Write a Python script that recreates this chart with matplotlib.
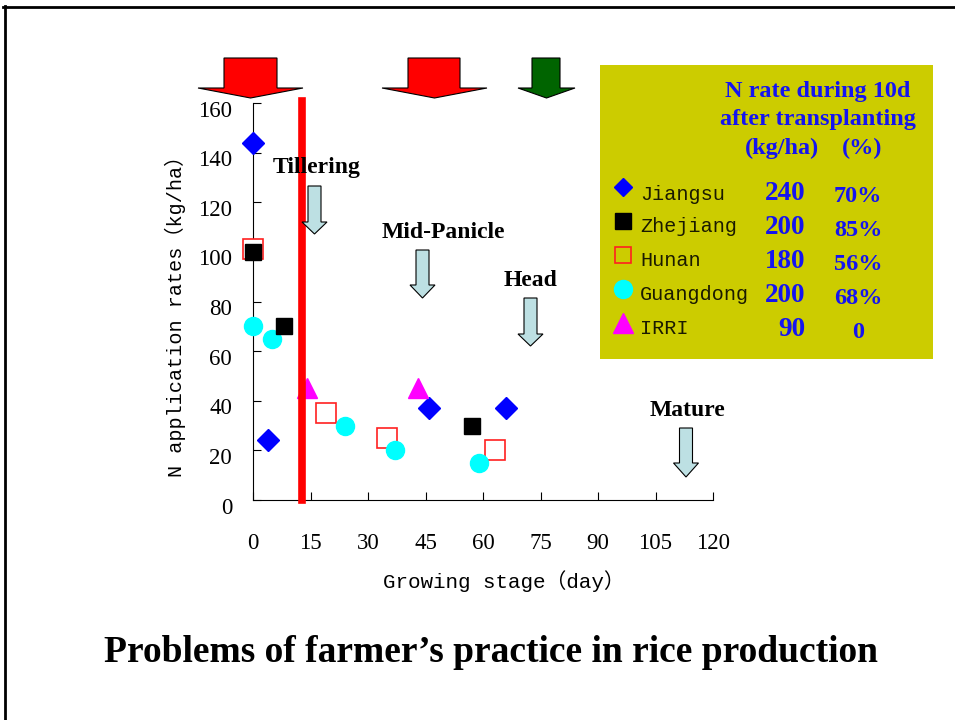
import matplotlib
matplotlib.use("Agg")
import matplotlib.pyplot as plt
from matplotlib.patches import Polygon, Rectangle
from matplotlib.transforms import ScaledTranslation

# --- data ---
jiangsu_x = [0, 4, 46, 66]
jiangsu_y = [144, 24, 37, 37]
zhejiang_x = [0, 8, 57]
zhejiang_y = [100, 70, 30]
hunan_x = [0, 19, 35, 63]
hunan_y = [101, 35, 25, 20]
guangdong_x = [0, 5, 24, 37, 59]
guangdong_y = [70, 65, 30, 20, 15]
irri_x = [14, 43]
irri_y = [45, 45]

red_line_day = 12.7

x_ticks = [0, 15, 30, 45, 60, 75, 90, 105, 120]
y_ticks = [0, 20, 40, 60, 80, 100, 120, 140, 160]

regions = ["Jiangsu", "Zhejiang", "Hunan", "Guangdong", "IRRI"]
n_rates = ["240", "200", "180", "200", "90"]
n_pcts = ["70%", "85%", "56%", "68%", "0"]

stage_labels = ["Tillering", "Mid-Panicle", "Head", "Mature"]

SERIF = ["Liberation Serif", "DejaVu Serif"]
MONO = ["Liberation Mono", "Noto Sans CJK SC", "DejaVu Sans"]

fig = plt.figure(figsize=(9.55, 7.2), dpi=100)
ax = fig.add_axes([253 / 955, 1 - 500 / 720, 460 / 955, 397 / 720])

ax.plot(hunan_x, hunan_y, "s", ms=14, mfc="white", mec="#ff2020", mew=1.2, ls="none",
        zorder=3, clip_on=False)
ax.plot(zhejiang_x, zhejiang_y, "s", ms=12, color="black", ls="none", zorder=4, clip_on=False)
ax.plot(guangdong_x, guangdong_y, "o", ms=13, color="cyan", ls="none", zorder=3, clip_on=False)
ax.plot(jiangsu_x, jiangsu_y, "D", ms=11, color="#0000ff", ls="none", zorder=3, clip_on=False)
ax.plot(irri_x, irri_y, "^", ms=15, color="magenta", ls="none", zorder=3, clip_on=False)
ax.plot([red_line_day, red_line_day], [0, 160.8], color="red", lw=5.5, clip_on=False, zorder=5)

ax.set_xlim(0, 120)
ax.set_ylim(0, 160)
ax.set_xticks(x_ticks)
ax.set_yticks(y_ticks)
ax.set_xticklabels([str(v) for v in x_ticks], family=SERIF, fontsize=16.5)
ax.set_yticklabels([str(v) for v in y_ticks], family=SERIF, fontsize=16.5)
ax.tick_params(axis="x", direction="in", length=6, pad=24)
ax.tick_params(axis="y", direction="in", length=6, pad=15)
shift = ScaledTranslation(0, -4 / 72, fig.dpi_scale_trans)
for lab in ax.get_yticklabels():
    lab.set_transform(lab.get_transform() + shift)
for s in ["top", "right"]:
    ax.spines[s].set_visible(False)
ax.set_xlabel("Growing stage（day）", family=MONO, fontsize=15)
ax.set_ylabel("N application rates（kg/ha）", family=MONO, fontsize=14.5)
ax.xaxis.set_label_coords(0.545, -0.178)
ax.yaxis.set_label_coords(-0.145, 0.475)

# --- overlay in pixel coordinates for the slide decorations ---
ov = fig.add_axes([0, 0, 1, 1], zorder=10)
ov.set_xlim(0, 955)
ov.set_ylim(720, 0)
ov.axis("off")
ov.patch.set_alpha(0)

# slide frame
ov.plot([3, 955], [6.5, 6.5], color="black", lw=2)
ov.plot([4.5, 4.5], [6, 720], color="black", lw=2)


def fat_arrow(x0, x1, hx0, hx1, top, base, tip, color):
    cx = (hx0 + hx1) / 2
    pts = [(x0, top), (x1, top), (x1, base), (hx1, base), (cx, tip),
           (hx0, base), (x0, base)]
    ov.add_patch(Polygon(pts, closed=True, fc=color, ec="black", lw=0.8))


fat_arrow(224, 277, 198, 303, 58, 88, 98, "red")
fat_arrow(408, 460, 382, 487, 58, 88, 98, "red")
fat_arrow(532, 560, 518, 575, 58, 88, 98, "#006400")


def small_arrow(cx, top, base, tip):
    fat_arrow(cx - 6.5, cx + 6.5, cx - 12.5, cx + 12.5, top, base, tip, "#bde0e3")


small_arrow(314.5, 186, 222, 234)
small_arrow(422.5, 250, 285, 298)
small_arrow(530.5, 298, 334, 346)
small_arrow(686, 428, 463, 477)

label_pos = [(317, 168), (443, 232), (531, 281), (687, 411)]
for lab, (lx, ly) in zip(stage_labels, label_pos):
    ov.text(lx, ly, lab, family=SERIF, fontweight="bold", fontsize=17,
            ha="center", va="center")

# legend / table box
ov.add_patch(Rectangle((600, 65), 333, 294, fc="#cccc00", ec="none"))
blue = "#1414f0"
ov.text(818, 91, "N rate during 10d", family=SERIF, fontweight="bold", fontsize=17.5,
        color=blue, ha="center", va="center")
ov.text(818, 120, "after transplanting", family=SERIF, fontweight="bold", fontsize=17.5,
        color=blue, ha="center", va="center")
ov.text(782, 148, "(kg/ha)", family=SERIF, fontweight="bold", fontsize=17.5,
        color=blue, ha="center", va="center")
ov.text(862, 148, "(%)", family=SERIF, fontweight="bold", fontsize=17.5,
        color=blue, ha="center", va="center")

marker_styles = [
    dict(marker="D", ms=9, color="#0000ff"),
    dict(marker="s", ms=11, color="black"),
    dict(marker="s", ms=12, mfc="none", mec="#ff2020", mew=1.2),
    dict(marker="o", ms=13, color="cyan"),
    dict(marker="^", ms=15, color="magenta"),
]
row_y = [194, 227, 261, 295, 329]
marker_y = [187, 221, 255, 289, 323]
for i, reg in enumerate(regions):
    ov.plot([623], [marker_y[i]], ls="none", **marker_styles[i])
    ov.text(640, row_y[i], reg, family=MONO, fontsize=14.5, color="#1a1a00",
            ha="left", va="center")
    ov.text(805, row_y[i], n_rates[i], family=SERIF, fontweight="bold", fontsize=19.5,
            color=blue, ha="right", va="center")
    ov.text(858, row_y[i] + 3, n_pcts[i], family=SERIF, fontweight="bold", fontsize=17.5,
            color=blue, ha="center", va="center")

ov.text(491, 652, "Problems of farmer\u2019s practice in rice production", family=SERIF,
        fontweight="bold", fontsize=27, ha="center", va="center")

fig.savefig("out.png", dpi=100)
